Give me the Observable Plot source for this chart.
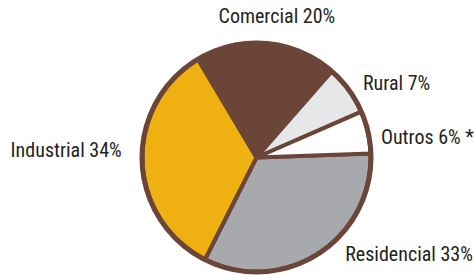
<!DOCTYPE html>
<html><head><meta charset="utf-8">
<script src="https://cdn.jsdelivr.net/npm/d3@7"></script>
<script src="https://cdn.jsdelivr.net/npm/@observablehq/plot@0.6"></script>
<style>body{margin:0;background:#fff;overflow:hidden} svg text{font-stretch:condensed}</style>
</head><body><div id="chart"></div>
<script>
const categories = ["Residencial", "Industrial", "Comercial", "Rural", "Outros"];
const labels = ["Residencial 33%", "Industrial 34%", "Comercial 20%", "Rural 7%", "Outros 6% *"];
const shares = [33, 34, 20, 7, 6];
const colors = ["#a7a9ac", "#eeb111", "#6b4638", "#e6e7e8", "#ffffff"];

const W = 474, H = 275, cx = 256, cy = 157, R = 114;
const startDeg = -2;
const brown = "#6b4638";
const total = d3.sum(shares);
let acc = 0;
const slices = categories.map((c, i) => {
  const a0 = startDeg + acc / total * 360;
  acc += shares[i];
  const a1 = startDeg + acc / total * 360;
  return {c, i, a0, a1, mid: (a0 + a1) / 2, label: labels[i]};
});
const pts = [];
slices.forEach(s => {
  pts.push({c: s.c, x: 0, y: 0});
  const n = Math.max(2, Math.ceil(s.a1 - s.a0));
  for (let k = 0; k <= n; k++) {
    const t = (s.a0 + (s.a1 - s.a0) * k / n) * Math.PI / 180;
    pts.push({c: s.c, x: Math.cos(t), y: -Math.sin(t)});
  }
  pts.push({c: s.c, x: 0, y: 0});
});
const LR = 1.2;
const offs = {
  Comercial: {dx: 8, dy: -5, anchor: "middle"},
  Rural: {dx: -4, dy: 6.5, anchor: "start"},
  Outros: {dx: -9, dy: 10, anchor: "start"},
  Residencial: {dx: 15, dy: -18, anchor: "start"},
  Industrial: {dx: 2, dy: -11.5, anchor: "end"}
};
const labelMarks = slices.map(s => {
  const t = s.mid * Math.PI / 180;
  const o = offs[s.c];
  return Plot.text([s], {
    x: () => LR * Math.cos(t), y: () => -LR * Math.sin(t), text: "label",
    dx: o.dx, dy: o.dy, textAnchor: o.anchor,
    fontSize: 20, fontFamily: "Roboto, sans-serif",
    fill: "#231f20"
  });
});
const chart = Plot.plot({
  width: W, height: H,
  margin: 0,
  x: {domain: [-cx / R, (W - cx) / R], axis: null},
  y: {domain: [-(H - cy) / R, cy / R], axis: null},
  color: {domain: categories, range: colors},
  style: {background: "transparent", overflow: "visible"},
  marks: [
    Plot.line(pts, {x: "x", y: "y", z: "c", fill: "c", stroke: brown, strokeWidth: 4, curve: "linear"}),
    Plot.dot([{x: 0, y: 0}], {x: "x", y: "y", r: R + 0.5, stroke: brown, strokeWidth: 5, fill: "none"}),
    ...labelMarks
  ]
});
document.getElementById("chart").append(chart);
</script>
</body></html>
